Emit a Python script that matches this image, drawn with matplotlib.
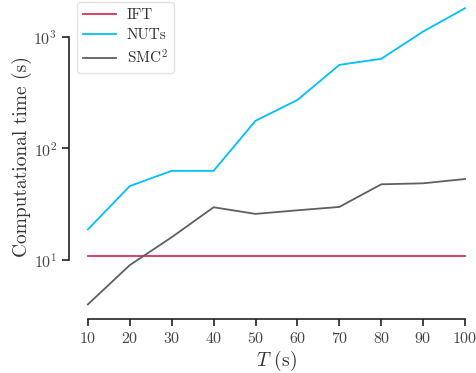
import matplotlib
matplotlib.use("Agg")
import matplotlib.pyplot as plt
from matplotlib.ticker import NullLocator

# Computational cost versus horizon length T
T = [10, 20, 30, 40, 50, 60, 70, 80, 90, 100]
ift_time = [10.9] * 10
nuts_time = [18.8, 46, 63, 63, 177, 272, 561, 636, 1117, 1807]
smc2_time = [4.0, 9.0, 16.0, 29.7, 25.9, 27.9, 29.9, 47.7, 48.7, 53.2]

plt.rcParams.update({
    "font.family": "serif",
    "font.serif": ["cmr10"],
    "mathtext.fontset": "cm",
    "axes.formatter.use_mathtext": True,
    "axes.unicode_minus": False,
    "text.color": "#333333",
    "xtick.color": "#222222",
    "ytick.color": "#222222",
    "xtick.labelcolor": "#444444",
    "ytick.labelcolor": "#444444",
})

fig = plt.figure(figsize=(4.77, 3.73), dpi=100)
ax = fig.add_axes([0.1447, 0.1442, 0.8698, 0.8735])

ax.plot(T, ift_time, color="#dc2f55", lw=1.3, label="IFT")
ax.plot(T, nuts_time, color="#00bfff", lw=1.3, label="NUTs")
ax.plot(T, smc2_time, color="#5f5f5f", lw=1.3, label="SMC$^2$")

ax.set_yscale("log")
ax.yaxis.set_minor_locator(NullLocator())
ax.set_xticks(T)
ax.set_yticks([10, 100, 1000])

ax.tick_params(axis="both", labelsize=11.5, length=5, width=1.2, direction="out")
ax.set_xlabel("$T$ (s)", fontsize=14, color="#333333", labelpad=2)
ax.set_ylabel("Computational time (s)", fontsize=14, color="#333333", labelpad=1)

for side in ("top", "right"):
    ax.spines[side].set_visible(False)
for side in ("left", "bottom"):
    ax.spines[side].set_linewidth(1.2)
    ax.spines[side].set_color("#222222")
ax.spines["left"].set_bounds(10, 1000)
ax.spines["bottom"].set_bounds(10, 100)

leg = ax.legend(loc="upper left", bbox_to_anchor=(77 / 477, 1 - 2 / 373),
                bbox_transform=fig.transFigure, fontsize=11,
                frameon=True, fancybox=True, borderpad=0.42,
                handlelength=2.1, labelspacing=0.4, handletextpad=0.75,
                borderaxespad=0)
leg.get_frame().set_edgecolor("#dddddd")
leg.get_frame().set_linewidth(1.0)

fig.savefig("out.png", dpi=100)
